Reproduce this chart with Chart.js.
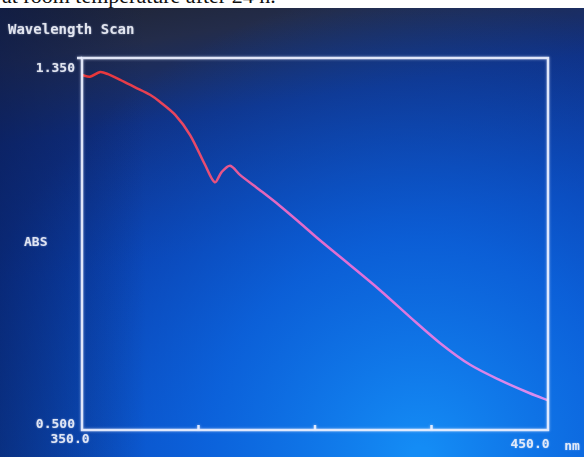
<!DOCTYPE html>
<html>
<head>
<meta charset="utf-8">
<script src="https://cdn.jsdelivr.net/npm/chart.js@4.4.0/dist/chart.umd.min.js"></script>
<style>
  body { margin: 0; background: #fff; width: 584px; height: 457px; overflow: hidden; }
  #cap { height: 8px; overflow: hidden; position: relative; }
  #cap span { position: absolute; left: 2px; top: -17px; font: 22px "Liberation Serif", serif; color: #111; white-space: nowrap; }
  #wrap { width: 584px; height: 449px; }
</style>
</head>
<body>
<div id="cap"><span>at room temperature after 24 h.</span></div>
<div id="wrap"><canvas id="scan" width="584" height="449"></canvas></div>
<script>
var ctx = document.getElementById('scan').getContext('2d');

// wavelength (nm) and absorbance
var wavelength = [350, 351.7, 353.9, 355.6, 358.2, 361.4, 364.6, 366.7, 370, 373.2, 376.4, 378.5, 380, 381.8, 383.9, 388.2, 392.5, 396.8, 401, 407.5, 413.9, 420.4, 426.8, 433.3, 439.7, 446.1, 450];
var absorb = [1.311, 1.307, 1.318, 1.313, 1.300, 1.283, 1.266, 1.250, 1.220, 1.174, 1.106, 1.066, 1.090, 1.104, 1.083, 1.048, 1.012, 0.973, 0.934, 0.877, 0.820, 0.758, 0.699, 0.649, 0.614, 0.584, 0.568];
var xTicks = [375, 400, 425];
var xMin = 350, xMax = 450, yMin = 0.5, yMax = 1.35;

var points = wavelength.map(function(w, k){ return {x: w, y: absorb[k]}; });

var screenBg = {
    id: 'screenBg',
    beforeDraw: function(chart){
        var c = chart.ctx, w = chart.width, h = chart.height;
        c.save();
        var g = c.createLinearGradient(0, 0, w * 0.12, h);
        g.addColorStop(0, '#1e2333');
        g.addColorStop(0.12, '#232c4a');
        g.addColorStop(0.3, '#102f80');
        g.addColorStop(0.6, '#0a3ca8');
        g.addColorStop(1, '#0a4cc0');
        c.fillStyle = g;
        c.fillRect(0, 0, w, h);
        var r = c.createRadialGradient(w * 0.72, h * 1.0, 10, w * 0.72, h * 1.0, w * 0.8);
        r.addColorStop(0, 'rgba(20,140,245,1)');
        r.addColorStop(0.45, 'rgba(12,105,228,0.75)');
        r.addColorStop(1, 'rgba(12,80,200,0)');
        c.fillStyle = r;
        c.fillRect(0, 0, w, h);
        var s = c.createLinearGradient(0, 0, w * 0.25, 0);
        s.addColorStop(0, 'rgba(8,25,80,0.55)');
        s.addColorStop(1, 'rgba(8,25,80,0)');
        c.fillStyle = s;
        c.fillRect(0, 0, w, h);
        c.restore();
    },
    afterDraw: function(chart){
        var c = chart.ctx, a = chart.chartArea;
        var xs = chart.scales.x, ys = chart.scales.y;
        c.save();
        c.strokeStyle = 'rgba(235,240,255,0.92)';
        c.lineWidth = 2.5;
        c.shadowColor = 'rgba(220,230,255,0.6)';
        c.shadowBlur = 3;
        c.strokeRect(a.left, a.top, a.right - a.left, a.bottom - a.top);
        c.beginPath();
        c.moveTo(a.left - 5, a.top);
        c.lineTo(a.left, a.top);
        xTicks.forEach(function(t){
            var px = xs.getPixelForValue(t);
            c.moveTo(px, a.bottom);
            c.lineTo(px, a.bottom - 5);
        });
        c.stroke();

        c.fillStyle = 'rgba(240,242,250,0.9)';
        c.shadowBlur = 2;
        c.textBaseline = 'middle';
        c.font = 'bold 14px "DejaVu Sans Mono"';
        c.fillText('Wavelength Scan', 8, 22);
        c.font = 'bold 13px "DejaVu Sans Mono"';
        c.textAlign = 'right';
        c.fillText('1.350', a.left - 7, ys.getPixelForValue(yMax) + 11);
        c.fillText('0.500', a.left - 7, ys.getPixelForValue(yMin) - 5);
        c.textAlign = 'left';
        c.fillText('ABS', 24, ys.getPixelForValue((yMin + yMax) / 2) - 1);
        c.textAlign = 'center';
        c.fillText(xMin.toFixed(1), xs.getPixelForValue(xMin) - 12, a.bottom + 10);
        c.fillText(xMax.toFixed(1), xs.getPixelForValue(xMax) - 18, a.bottom + 15);
        c.fillText('nm', xs.getPixelForValue(xMax) + 24, a.bottom + 17);
        c.restore();
    }
};

var scanChart = new Chart(ctx, {
    type: 'line',
    data: {
        datasets: [{
            data: points,
            borderWidth: 2.5,
            pointRadius: 0,
            tension: 0.3,
            borderColor: function(context){
                var a = context.chart.chartArea;
                if (!a) return '#e04040';
                var g = context.chart.ctx.createLinearGradient(a.left, 0, a.right, 0);
                g.addColorStop(0, '#e83434');
                g.addColorStop(0.25, '#e84a6a');
                g.addColorStop(0.4, '#e468c0');
                g.addColorStop(0.6, '#e070d8');
                g.addColorStop(1, '#d88ef0');
                return g;
            }
        }]
    },
    options: {
        responsive: false,
        animation: false,
        layout: { padding: { left: 82, right: 36, top: 50, bottom: 27 } },
        plugins: { legend: { display: false }, tooltip: { enabled: false } },
        scales: {
            x: { type: 'linear', min: xMin, max: xMax, display: false },
            y: { min: yMin, max: yMax, display: false }
        }
    },
    plugins: [screenBg]
});
</script>
</body>
</html>
